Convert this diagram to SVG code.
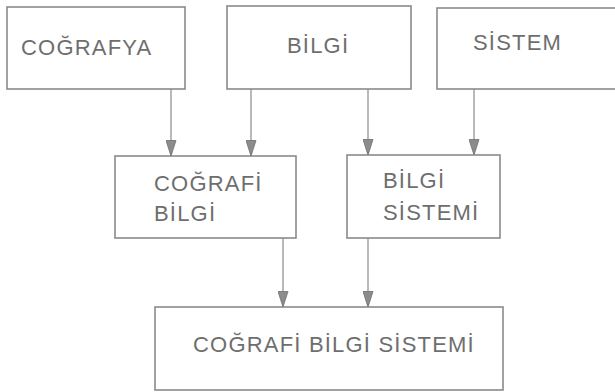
<svg xmlns="http://www.w3.org/2000/svg" width="615" height="392" viewBox="0 0 615 392">
<defs>
<style>
.box{fill:#fff;stroke:#8a8a8a;stroke-width:1.6}
.lbl{font-family:"Liberation Sans",Arial,sans-serif;font-size:22px;letter-spacing:1.2px;fill:#6e6e6e}
.con{stroke:#8a8a8a;stroke-width:1.2;fill:none}
</style>
<marker id="ah" viewBox="0 0 16 11" refX="16" refY="5.5" markerWidth="16" markerHeight="11" markerUnits="userSpaceOnUse" orient="auto">
<path d="M0.5,0.5 L16,5.5 L0.5,10.5 Z" fill="#8c8c8c" stroke="#6e6e6e" stroke-width="0.8"/>
</marker>
</defs>
<rect width="615" height="392" fill="#fff"/>
<g id="connectors">
<line class="con" x1="171" y1="89" x2="171" y2="156" marker-end="url(#ah)"/>
<line class="con" x1="251" y1="89" x2="251" y2="156" marker-end="url(#ah)"/>
<line class="con" x1="368" y1="89" x2="368" y2="155" marker-end="url(#ah)"/>
<line class="con" x1="474" y1="89" x2="474" y2="155" marker-end="url(#ah)"/>
<line class="con" x1="283" y1="238" x2="283" y2="307" marker-end="url(#ah)"/>
<line class="con" x1="368" y1="238" x2="368" y2="307" marker-end="url(#ah)"/>
</g>
<g id="cografya">
<rect class="box" x="7" y="7" width="178" height="82"/>
<text class="lbl" x="21" y="55">COĞRAFYA</text>
</g>
<g id="bilgi">
<rect class="box" x="227" y="6" width="184" height="83"/>
<text class="lbl" x="287" y="53">BİLGİ</text>
</g>
<g id="sistem">
<rect class="box" x="437" y="8" width="190" height="81"/>
<text class="lbl" x="473" y="50">SİSTEM</text>
</g>
<g id="cografi-bilgi">
<rect class="box" x="115" y="156" width="181" height="82"/>
<text class="lbl" x="154" y="191">COĞRAFİ</text>
<text class="lbl" x="154" y="221">BİLGİ</text>
</g>
<g id="bilgi-sistemi">
<rect class="box" x="347" y="155" width="153" height="83"/>
<text class="lbl" x="383" y="188">BİLGİ</text>
<text class="lbl" x="383" y="220">SİSTEMİ</text>
</g>
<g id="cografi-bilgi-sistemi">
<rect class="box" x="155" y="307" width="348" height="83"/>
<text class="lbl" x="193" y="352">COĞRAFİ BİLGİ SİSTEMİ</text>
</g>
</svg>
